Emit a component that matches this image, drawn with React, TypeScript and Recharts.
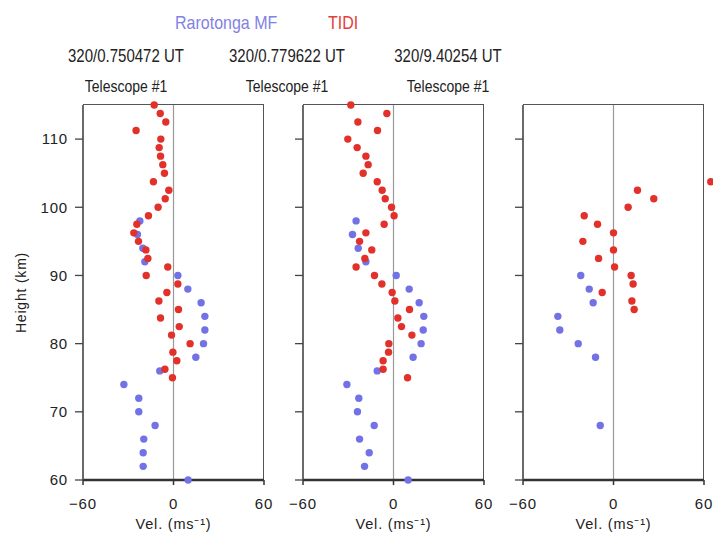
import {
  ScatterChart,
  Scatter,
  XAxis,
  YAxis,
  ReferenceLine,
  ReferenceDot,
} from 'recharts';

// Rarotonga MF radar: heights every 2 km
const mfHeights1 = [98, 96, 94, 92, 90, 88, 86, 84, 82, 80, 78, 76, 74, 72, 70, 68, 66, 64, 62, 60];
const mfVel1 = [-22.3, -23.9, -20.3, -19.0, 2.9, 9.5, 18.3, 20.8, 20.8, 19.9, 14.8, -9.1, -32.9, -23.0, -23.0, -12.2, -19.7, -20.1, -20.1, 9.7];
const mfHeights2 = [98, 96, 94, 92, 90, 88, 86, 84, 82, 80, 78, 76, 74, 72, 70, 68, 66, 64, 62, 60];
const mfVel2 = [-24.8, -27.2, -23.4, -18.3, 1.8, 10.4, 17.0, 20.1, 19.7, 18.3, 13.0, -10.8, -30.9, -23.0, -23.9, -12.8, -22.5, -16.1, -19.2, 9.7];
const mfHeights3 = [90, 88, 86, 84, 82, 80, 78, 68];
const mfVel3 = [-21.7, -16.1, -13.5, -36.9, -35.6, -23.4, -11.9, -8.8];

// TIDI profiles: heights every 1.25 km
const tidiHeights1 = [115, 113.75, 112.5, 111.25, 110, 108.75, 107.5, 106.25, 105, 103.75, 102.5, 101.25, 100, 98.75, 97.5, 96.25, 95, 93.75, 92.5, 91.25, 90, 88.75, 87.5, 86.25, 85, 83.75, 82.5, 81.25, 80, 78.75, 77.5, 76.25, 75];
const tidiVel1 = [-12.8, -8.8, -5.1, -24.8, -8.4, -9.5, -8.6, -7.1, -6.0, -13.3, -3.1, -5.5, -10.2, -16.6, -24.3, -26.3, -23.2, -18.3, -17.0, -3.8, -18.1, 2.9, -4.4, -9.7, 3.3, -8.6, 3.8, -1.3, 11.0, -0.4, 2.2, -5.7, -0.7];
const tidiHeights2 = [115, 113.75, 112.5, 111.25, 110, 108.75, 107.5, 106.25, 105, 103.75, 102.5, 101.25, 100, 98.75, 97.5, 96.25, 95, 93.75, 92.5, 91.25, 90, 88.75, 87.5, 86.25, 85, 83.75, 82.5, 81.25, 80, 78.75, 77.5, 76.25, 75];
const tidiVel2 = [-28.3, -4.4, -23.6, -10.6, -30.3, -24.1, -18.3, -16.8, -20.1, -10.8, -7.5, -5.5, -1.3, 0.4, -6.2, -18.3, -22.5, -14.4, -19.0, -24.8, -12.6, -7.7, -0.9, 0.9, 10.6, 2.9, 5.3, 12.2, -3.1, -3.3, -6.9, -6.9, 9.3];
const tidiHeights3 = [102.5, 101.25, 100, 98.75, 97.5, 96.25, 95, 93.75, 92.5, 91.25, 90, 88.75, 87.5, 86.25, 85];
const tidiVel3 = [15.9, 26.7, 9.7, -19.4, -10.6, 0, -20.3, 0, -9.9, 0.7, 11.7, 13.0, -7.5, 12.2, 13.7];
// one TIDI sample sits past the +60 edge of the third panel
const tidiOffScale3 = { height: 103.75, vel: 64.5 };

const panelTitles = ['320/0.750472 UT', '320/0.779622 UT', '320/9.40254 UT'];
const subTitle = 'Telescope #1';
const xTicks = [-60, 0, 60];
const yTicks = [60, 70, 80, 90, 100, 110];

const MF_COLOR = '#7272e6';
const TIDI_COLOR = '#e2312a';
const FONT = '"Liberation Sans", Arial, sans-serif';
const INK = '#222';

// plot box inside each chart: y-axis strip 83px wide, 10px top margin, 181 x 375
const PLOT = { left: 83, top: 10, width: 181, height: 375 };

type Pt = { vel: number; height: number };
const toPoints = (h: number[], v: number[]): Pt[] => h.map((height, i) => ({ height, vel: v[i] }));

const dot = (color: string) => (props: any) => (
  <circle cx={props.cx} cy={props.cy} r={3.7} fill={color} />
);

const minus = (v: number) => String(v).replace('-', '\u2212');

interface PanelProps {
  left: number;
  width: number;
  marginRight: number;
  yLabels: boolean;
  mf: Pt[];
  tidi: Pt[];
  offScale?: Pt;
}

function Panel({ left, width, marginRight, yLabels, mf, tidi, offScale }: PanelProps) {
  const tickText = { fill: INK, fontSize: 15, fontFamily: FONT, letterSpacing: 0.8 };
  return (
    <div style={{ position: 'absolute', left, top: 95 }}>
      {/* top and right edges of the box */}
      <div
        style={{
          position: 'absolute',
          left: PLOT.left,
          top: PLOT.top - 1,
          width: PLOT.width,
          height: PLOT.height,
          borderTop: '1.3px solid #555',
          borderRight: '1.3px solid #555',
          boxSizing: 'border-box',
          pointerEvents: 'none',
        }}
      />
      <ScatterChart
        width={width}
        height={443}
        margin={{ top: PLOT.top, right: marginRight, bottom: 28, left: 0 }}
      >
        <XAxis
          type="number"
          dataKey="vel"
          domain={[-60, 60]}
          ticks={xTicks}
          tickFormatter={minus}
          tickSize={5}
          tickMargin={13}
          height={30}
          axisLine={{ stroke: '#333', strokeWidth: 2.5 }}
          tickLine={{ stroke: '#333', strokeWidth: 1.5 }}
          tick={tickText}
          label={{ value: 'Vel. (ms\u207B\u00B9)', position: 'bottom', offset: 9, fill: INK, fontSize: 14.5, fontFamily: FONT, letterSpacing: 0.8 }}
        />
        <YAxis
          type="number"
          dataKey="height"
          domain={[60, 115]}
          ticks={yTicks}
          tickFormatter={yLabels ? (v: number) => String(v) : () => ''}
          tickSize={8}
          tickMargin={7}
          width={PLOT.left}
          axisLine={{ stroke: '#444', strokeWidth: 1.6 }}
          tickLine={{ stroke: '#444', strokeWidth: 1.3 }}
          tick={tickText}
          label={
            yLabels
              ? { value: 'Height (km)', angle: -90, position: 'insideLeft', offset: 21, fill: INK, fontSize: 14, fontFamily: FONT, letterSpacing: 0.8, style: { textAnchor: 'middle' } }
              : undefined
          }
        />
        <ReferenceLine x={0} stroke="#999" strokeWidth={1.2} />
        <Scatter data={mf} fill={MF_COLOR} shape={dot(MF_COLOR)} isAnimationActive={false} />
        <Scatter data={tidi} fill={TIDI_COLOR} shape={dot(TIDI_COLOR)} isAnimationActive={false} />
        {offScale && (
          <ReferenceDot x={offScale.vel} y={offScale.height} r={3.7} fill={TIDI_COLOR} stroke="none" ifOverflow="visible" />
        )}
      </ScatterChart>
    </div>
  );
}

const titleCenters = [126, 287, 448];

export default function App() {
  return (
    <div style={{ position: 'absolute', left: 0, top: 0, width: 713, height: 538, background: '#fff', overflow: 'hidden', fontFamily: FONT, color: INK }}>
      <div style={{ position: 'absolute', left: 160, top: 13, width: 220, fontSize: 16, lineHeight: '16px', whiteSpace: 'nowrap', transform: 'scaleY(1.2)', transformOrigin: 'top left' }}>
        <span style={{ position: 'absolute', left: 15, color: '#8282e4' }}>Rarotonga MF</span>
        <span style={{ position: 'absolute', left: 168, color: '#e4403a' }}>TIDI</span>
      </div>
      {panelTitles.map((t, i) => (
        <div key={t}>
          <div style={{ position: 'absolute', left: titleCenters[i] - 100, top: 46, width: 200, textAlign: 'center', fontSize: 15, lineHeight: '15px', transform: 'scaleY(1.2)', transformOrigin: 'top left' }}>{t}</div>
          <div style={{ position: 'absolute', left: titleCenters[i] - 100, top: 78, width: 200, textAlign: 'center', fontSize: 14, lineHeight: '14px', transform: 'scaleY(1.15)', transformOrigin: 'top left' }}>{subTitle}</div>
        </div>
      ))}
      <Panel left={0} width={280} marginRight={16} yLabels mf={toPoints(mfHeights1, mfVel1)} tidi={toPoints(tidiHeights1, tidiVel1)} />
      <Panel left={220} width={280} marginRight={16} yLabels={false} mf={toPoints(mfHeights2, mfVel2)} tidi={toPoints(tidiHeights2, tidiVel2)} />
      <Panel
        left={440}
        width={273}
        marginRight={9}
        yLabels={false}
        mf={toPoints(mfHeights3, mfVel3)}
        tidi={toPoints(tidiHeights3, tidiVel3)}
        offScale={tidiOffScale3}
      />
    </div>
  );
}
